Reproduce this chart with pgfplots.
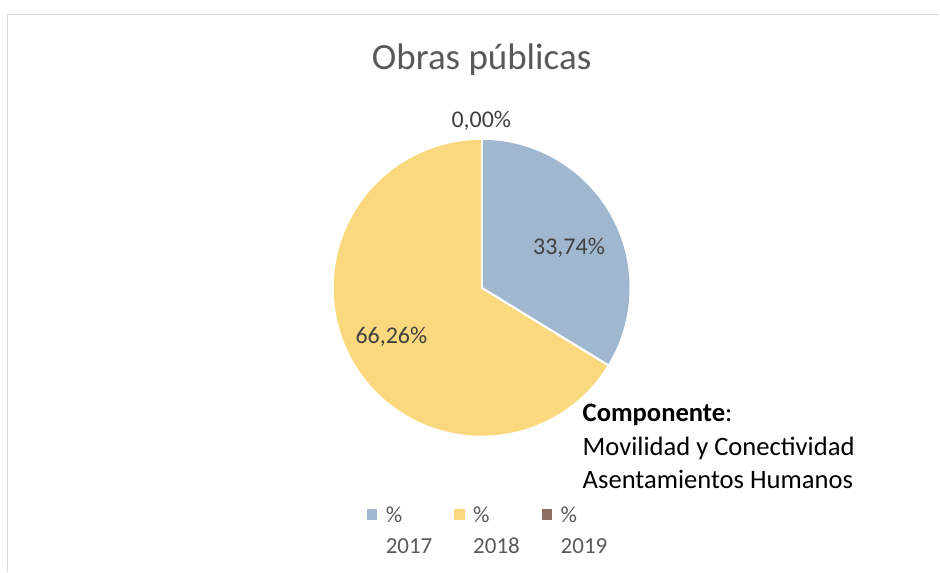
\documentclass[border=0pt]{standalone}
\usepackage{pgfplots}
\pgfplotsset{compat=1.18}
\usepackage{fontspec}
\setmainfont{Carlito}
\definecolor{sliceA}{HTML}{A0B8CF}
\definecolor{sliceB}{HTML}{FAD87D}
\definecolor{sliceC}{HTML}{8C6D62}
\definecolor{titlegray}{HTML}{595959}
\definecolor{labelgray}{HTML}{404040}
\definecolor{framegray}{HTML}{D9D9D9}
% pie data (percent)
\def\vA{33.74}
\def\vB{66.26}
\def\vC{0.00}
\begin{document}
\begin{tikzpicture}
\pgfmathsetmacro{\aStart}{90}
\pgfmathsetmacro{\aEnd}{90-3.6*\vA}
\pgfmathsetmacro{\bEnd}{\aEnd-3.6*\vB}
\pgfmathsetmacro{\cEnd}{\bEnd-3.6*\vC}
\begin{axis}[
  x=1bp, y=1bp, y dir=reverse,
  xmin=0, xmax=940, ymin=0, ymax=572,
  hide axis, clip=false,
  legend columns=3,
  legend style={at={(axis cs:364,505.5)}, anchor=north west, draw=none, fill=none,
    font=\fontsize{23bp}{30.5bp}\selectfont, text=titlegray,
    nodes={align=left, inner sep=0pt},
    /tikz/every odd column/.append style={column sep=9bp},
    /tikz/every even column/.append style={column sep=22bp}},
  legend image code/.code={\fill[#1] (0bp,12.25bp) rectangle (9.5bp,21.75bp);},
]
\path (axis cs:0,0) rectangle (axis cs:940,572);
\draw[framegray, line width=1.5bp] (axis cs:7.5,572) -- (axis cs:7.5,14.5) -- (axis cs:940,14.5);
% slices
\fill[sliceA] (axis cs:482,288) -- ++(\aStart:148bp) arc[start angle=\aStart, end angle=\aEnd, radius=148bp] -- cycle;
\fill[sliceB] (axis cs:482,288) -- ++(\aEnd:148bp) arc[start angle=\aEnd, end angle=\bEnd, radius=148bp] -- cycle;
\draw[white, line width=2.2bp] (axis cs:482,288) -- ++(\aStart:148bp);
\draw[white, line width=2.2bp] (axis cs:482,288) -- ++(\aEnd:148bp);
\addlegendimage{sliceA, fill=sliceA}
\addlegendentry{\%\\2017}
\addlegendimage{sliceB, fill=sliceB}
\addlegendentry{\%\\2018}
\addlegendimage{sliceC, fill=sliceC}
\addlegendentry{\%\\2019}
% title
\node[anchor=base, text=titlegray, font=\fontsize{37bp}{41bp}\selectfont] at (axis cs:482,70) {Obras públicas};
% data labels
\node[anchor=base, text=labelgray, font=\fontsize{24bp}{28bp}\selectfont] at (axis cs:481.7,127.7) {0,00\%};
\node[anchor=base, text=labelgray, font=\fontsize{24bp}{28bp}\selectfont] at (axis cs:569.5,254.3) {33,74\%};
\node[anchor=base, text=labelgray, font=\fontsize{24bp}{28bp}\selectfont] at (axis cs:391.7,343.3) {66,26\%};
% text box
\node[anchor=base west, inner sep=0pt, font=\fontsize{26.6bp}{34bp}\selectfont] at (axis cs:583,422) {\textbf{Componente}:};
\node[anchor=base west, inner sep=0pt, font=\fontsize{26.6bp}{34bp}\selectfont] at (axis cs:583,455.5) {Movilidad y Conectividad};
\node[anchor=base west, inner sep=0pt, font=\fontsize{26.6bp}{34bp}\selectfont] at (axis cs:583,489) {Asentamientos Humanos};
\end{axis}
\end{tikzpicture}
\end{document}
